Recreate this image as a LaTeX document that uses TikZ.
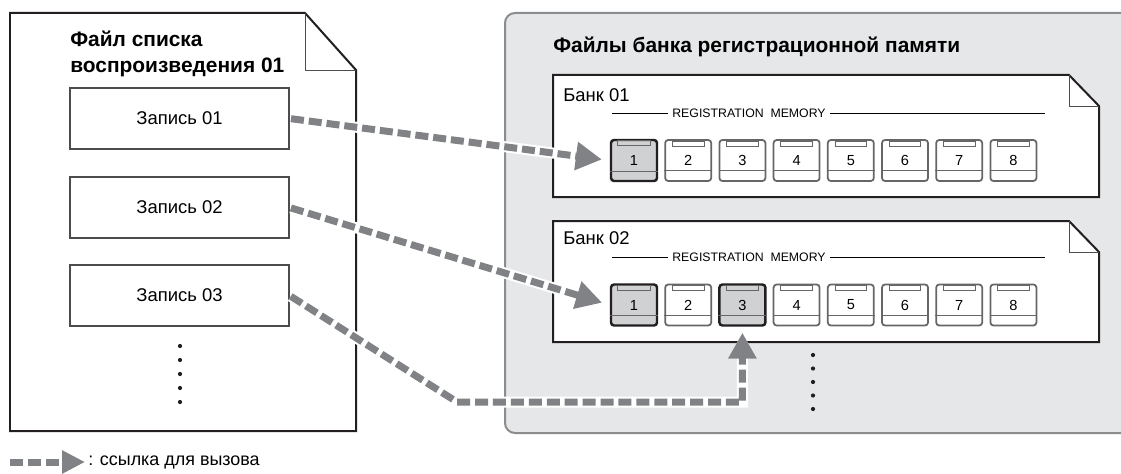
\documentclass[tikz,border=0pt]{standalone}
\usepackage{fontspec}
\setmainfont{Liberation Sans}
\usetikzlibrary{arrows.meta}
\definecolor{panelgray}{HTML}{E6E7E8}
\definecolor{paneledge}{HTML}{8A8C8E}
\definecolor{linkgray}{HTML}{808285}
\definecolor{btngray}{HTML}{D0D1D3}
\definecolor{inkblack}{HTML}{231F20}
\tikzset{
  docline/.style={draw=inkblack, line width=0.04cm, line join=miter},
  foldline/.style={draw=inkblack!80, line width=0.5pt},
  titletext/.style={inner sep=0pt, font=\fontsize{11.9}{14.7}\selectfont\bfseries},
  entrybox/.style={draw=black!70, line width=0.6pt, minimum width=4.38cm, minimum height=1.22cm, font=\fontsize{10.5}{12}\selectfont},
  banklabel/.style={anchor=base west, inner sep=0pt, font=\fontsize{10.5}{12}\selectfont},
  regmem/.style={inner sep=0.08cm, font=\fontsize{7}{8}\selectfont},
  regbtn/.style={draw=black!60, line width=1pt, rounded corners=0.06cm, fill=white, minimum width=0.92cm, minimum height=0.82cm, inner sep=0pt, font=\fontsize{8.3}{9}\selectfont},
  regbtnon/.style={regbtn, draw=inkblack, line width=1.4pt, fill=btngray},
  calllink/.style={draw=linkgray, line width=0.14cm, dash pattern=on 7.4pt off 2.8pt, preaction={draw=white, solid, line width=0.22cm}, -{Triangle[length=0.52cm, width=0.54cm]}},
}
\begin{document}
\begin{tikzpicture}[x=0.02cm,y=-0.02cm]
\useasboundingbox (0,0) rectangle (1121,473);
\draw[fill=panelgray, draw=paneledge, line width=0.04cm, rounded corners=0.2cm] (505,13) rectangle (1160,433);
\draw[docline, fill=white] (10,13) -- (305,13) -- (356,70) -- (356,431) -- (10,431) -- cycle;
\draw[foldline] (305,13) -- (305,70) -- (356,70);
\node[titletext, anchor=north west, align=left] (listtitle) at (70,31) {Файл списка\\воспроизведения 01};
\node[entrybox] (entry01) at (179.5,118.5) {Запись 01};
\node[entrybox] (entry02) at (179.5,207.5) {Запись 02};
\node[entrybox] (entry03) at (179.5,295.5) {Запись 03};
\foreach \y in {346,360,374,388,402}
  \fill[inkblack] (180,\y) circle[radius=0.042cm];
\node[titletext, anchor=base west] (banktitle) at (553,52) {Файлы банка регистрационной памяти};
\draw[docline, fill=white] (553,75) -- (1069,75) -- (1099,106) -- (1099,197) -- (553,197) -- cycle;
\draw[foldline] (1069,75) -- (1069,106) -- (1099,106);
\node[banklabel] (bankname01) at (563,101) {Банк 01};
\node[regmem] (regmem01) at (749,113) {REGISTRATION\ \ MEMORY};
\draw[line width=0.5pt] (612,113) -- (regmem01.west);
\draw[line width=0.5pt] (regmem01.east) -- (1045,113);
\foreach \k/\st in {1/regbtnon,2/regbtn,3/regbtn,4/regbtn,5/regbtn,6/regbtn,7/regbtn,8/regbtn} {
  \node[\st] (bankA\k) at ({634+54.2*(\k-1)},160.5) {\k};
  \draw[black!60, line width=0.5pt] ([xshift=0.16cm,yshift=-0.04cm]bankA\k.north west) rectangle ([xshift=-0.16cm,yshift=-0.14cm]bankA\k.north east);
  \draw[black!60, line width=0.5pt] ([yshift=0.22cm]bankA\k.south west) -- ([yshift=0.22cm]bankA\k.south east);
}
\draw[docline, fill=white] (553,221) -- (1069,221) -- (1099,252) -- (1099,342) -- (553,342) -- cycle;
\draw[foldline] (1069,221) -- (1069,252) -- (1099,252);
\node[banklabel] (bankname02) at (563,244) {Банк 02};
\node[regmem] (regmem02) at (749,257) {REGISTRATION\ \ MEMORY};
\draw[line width=0.5pt] (612,257) -- (regmem02.west);
\draw[line width=0.5pt] (regmem02.east) -- (1045,257);
\foreach \k/\st in {1/regbtnon,2/regbtn,3/regbtnon,4/regbtn,5/regbtn,6/regbtn,7/regbtn,8/regbtn} {
  \node[\st] (bankB\k) at ({634+54.2*(\k-1)},305) {\k};
  \draw[black!60, line width=0.5pt] ([xshift=0.16cm,yshift=-0.04cm]bankB\k.north west) rectangle ([xshift=-0.16cm,yshift=-0.14cm]bankB\k.north east);
  \draw[black!60, line width=0.5pt] ([yshift=0.22cm]bankB\k.south west) -- ([yshift=0.22cm]bankB\k.south east);
}
\foreach \y in {355,368.5,382,395.5,409}
  \fill[inkblack] (813,\y) circle[radius=0.042cm];
\coordinate (bend1) at (457,402);
\coordinate (bend2) at (742.4,402);
\draw[calllink, shorten <=0.03cm, shorten >=0.16cm] (entry01.east) -- (bankA1.west);
\draw[calllink, shorten <=0.03cm, shorten >=0.16cm] (entry02.east) -- (bankB1.west);
\draw[calllink, shorten <=0.03cm, shorten >=0.12cm] (entry03.east) -- (bend1) -- (bend2) -- (bankB3.south);
\coordinate (legendstart) at (10,462);
\node[anchor=west, inner sep=0pt, font=\fontsize{10.2}{12}\selectfont] (legendtext) at (88,462) {: ссылка для вызова};
\draw[calllink, -{Triangle[length=0.46cm, width=0.44cm]}, shorten >=0.06cm] (legendstart) -- (legendtext.west);
\end{tikzpicture}
\end{document}
